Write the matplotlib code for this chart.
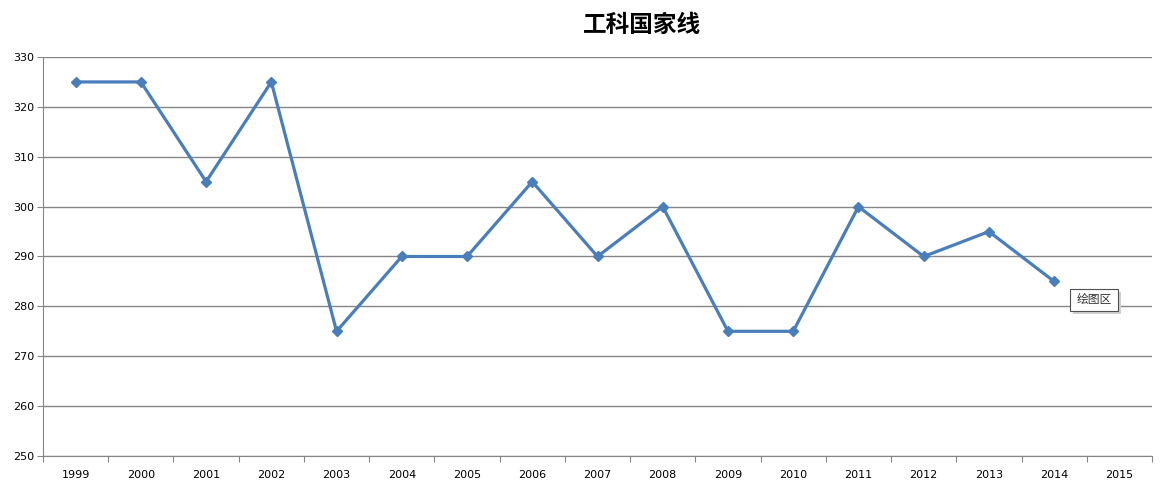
import matplotlib.pyplot as plt
from matplotlib.patches import Rectangle

plt.rcParams['font.family'] = ['Noto Sans CJK SC', 'DejaVu Sans']

years = ["1999", "2000", "2001", "2002", "2003", "2004", "2005", "2006", "2007",
         "2008", "2009", "2010", "2011", "2012", "2013", "2014", "2015"]
scores = [325, 325, 305, 325, 275, 290, 290, 305, 290, 300, 275, 275, 300, 290, 295, 285]

fig = plt.figure(figsize=(11.73, 4.86), dpi=100)
ax = fig.add_axes([43 / 1173, 1 - 456 / 486, (1152 - 43) / 1173, (456 - 57) / 486])

ax.plot(range(len(scores)), scores, color="#4a7ebb", linewidth=2.3,
        marker="D", markersize=5.5, zorder=3)

ax.set_xlim(-0.5, len(years) - 0.5)
ax.set_ylim(250, 330)
ax.set_yticks(range(250, 331, 10))
ax.yaxis.grid(True, color="#868686", linewidth=1)
ax.set_axisbelow(True)

ax.set_xticks([i + 0.5 for i in range(-1, len(years))])
ax.set_xticklabels([])
ax.set_xticks(range(len(years)), minor=True)
ax.set_xticklabels(years, minor=True, family="DejaVu Sans", fontsize=8)
ax.tick_params(axis="x", which="minor", length=0, pad=10)
ax.tick_params(axis="x", which="major", length=4, color="#868686", direction="out")
ax.tick_params(axis="y", length=4, color="#868686", labelsize=8, pad=2)
for lab in ax.get_yticklabels():
    lab.set_family("DejaVu Sans")

for s in ["top", "right"]:
    ax.spines[s].set_visible(False)
for s in ["left", "bottom"]:
    ax.spines[s].set_color("#868686")

fig.text(642 / 1173, 1 - 25 / 486, "工科国家线", ha="center", va="center",
         fontsize=17, fontweight="bold")

# tooltip "绘图区"
fig.patches.append(Rectangle((1073 / 1173, 1 - 314 / 486), 48 / 1173, 22 / 486,
                             transform=fig.transFigure, facecolor="#d0d0d0",
                             edgecolor="none", zorder=4))
fig.patches.append(Rectangle((1070 / 1173, 1 - 311 / 486), 48 / 1173, 22 / 486,
                             transform=fig.transFigure, facecolor="white",
                             edgecolor="#505050", linewidth=0.8, zorder=5))
fig.text(1094 / 1173, 1 - 300 / 486, "绘图区", ha="center", va="center",
         fontsize=8.5, color="#333333", zorder=6)

fig.savefig("out.png", dpi=100)
